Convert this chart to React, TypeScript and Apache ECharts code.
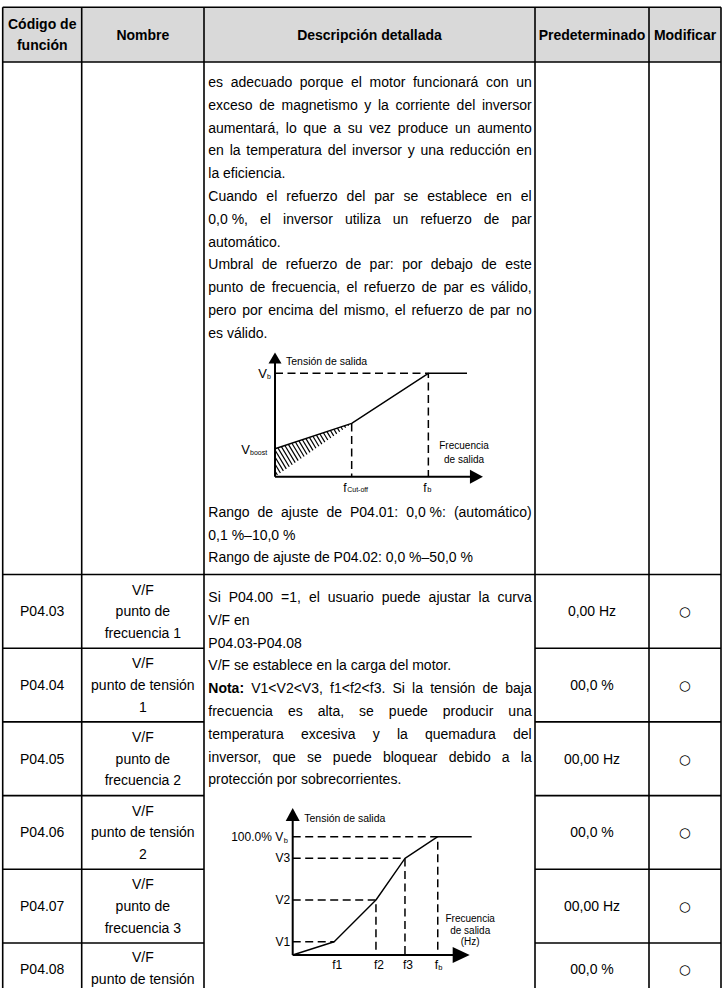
import React, { useEffect, useRef } from 'react';
import * as echarts from 'echarts';

// ---------- data ----------
const FAMILY = "'Liberation Sans', Arial, sans-serif";
const headers = ['Código de\nfunción', 'Nombre', 'Descripción detallada', 'Predeterminado', 'Modificar'];
const codes = ['P04.03', 'P04.04', 'P04.05', 'P04.06', 'P04.07', 'P04.08'];
const names = [
  ['V/F', 'punto de', 'frecuencia 1'],
  ['V/F', 'punto de tensión', '1'],
  ['V/F', 'punto de', 'frecuencia 2'],
  ['V/F', 'punto de tensión', '2'],
  ['V/F', 'punto de', 'frecuencia 3'],
  ['V/F', 'punto de tensión'],
];
const defaults = ['0,00 Hz', '00,0 %', '00,00 Hz', '00,0 %', '00,00 Hz', '00,0 %'];
const modifyMark = '○';

// [text, justified]
const upperLines: [string, boolean][] = [
  ['es adecuado porque el motor funcionará con un', true],
  ['exceso de magnetismo y la corriente del inversor', true],
  ['aumentará, lo que a su vez produce un aumento', true],
  ['en la temperatura del inversor y una reducción en', true],
  ['la eficiencia.', false],
  ['Cuando el refuerzo del par se establece en el', true],
  ['0,0\u00a0%, el inversor utiliza un refuerzo de par', true],
  ['automático.', false],
  ['Umbral de refuerzo de par: por debajo de este', true],
  ['punto de frecuencia, el refuerzo de par es válido,', true],
  ['pero por encima del mismo, el refuerzo de par no', true],
  ['es válido.', false],
];
const rangeLines: [string, boolean][] = [
  ['Rango de ajuste de P04.01: 0,0\u00a0%: (automático)', true],
  ['0,1 %–10,0 %', false],
  ['Rango de ajuste de P04.02: 0,0 %–50,0 %', false],
];
const lowerLines: [string, boolean][] = [
  ['Si P04.00 =1, el usuario puede ajustar la curva', true],
  ['V/F en', false],
  ['P04.03-P04.08', false],
  ['V/F se establece en la carga del motor.', false],
  ['Nota: V1<V2<V3, f1<f2<f3. Si la tensión de baja', true],
  ['frecuencia es alta, se puede producir una', true],
  ['temperatura excesiva y la quemadura del', true],
  ['inversor, que se puede bloquear debido a la', true],
  ['protección por sobrecorrientes.', false],
];
const boldWords = ['Nota:'];

// diagram 1 (torque boost): frequency (Hz) / voltage (% of Vb)
const d1Freq = [0, 25, 50, 62.6];
const d1Volt = [27, 51.5, 100, 100];
const d1Hatch = [[0, 0], [0, 27], [25, 51.5]];
// diagram 2 (V/F curve)
const d2Freq = [0, 14.3, 28.7, 38.7, 50, 61.7];
const d2Volt = [0, 11.2, 46.5, 81.7, 100, 100];
const d2VLabels = ['', 'V1', 'V2', 'V3'];
const d2FLabels = ['', 'f1', 'f2', 'f3'];

// ---------- layout ----------
const COLS = [2.7, 81.7, 204, 535, 649, 721];
const TOP = 7.3;
const HEAD_B = 62;
const ROW0 = 574.5;
const ROW_H = 73.7;
const PAGE_H = 988;
const LAST_CENTER = 969;
const LAST_NAMES_CENTER = 979;
const BODY = 14;
const TXT_L = 208.3;
const TXT_R = 531.7;
const LINE = 22.8;
const UP_Y0 = 82;
const RANGE_Y0 = 511.7;
const LOW_Y0 = 597;
const NAME_GAP = 21.7;

let ctx: CanvasRenderingContext2D | null = null;
function measure(t: string, bold: boolean, size = BODY) {
  if (!ctx) ctx = document.createElement('canvas').getContext('2d');
  ctx!.font = `${bold ? 'bold ' : ''}${size}px ${FAMILY}`;
  return ctx!.measureText(t).width;
}

function txt(x: number, y: number, text: string, o: any = {}) {
  return {
    type: 'text',
    x,
    y,
    silent: true,
    style: {
      text,
      fill: '#000',
      fontSize: o.size || BODY,
      fontFamily: o.family || FAMILY,
      fontWeight: o.bold ? 'bold' : 'normal',
      textAlign: o.align || 'left',
      align: o.align || 'left',
      textVerticalAlign: 'middle',
      verticalAlign: 'middle',
    },
  };
}

function ln(x1: number, y1: number, x2: number, y2: number, w = 1.6) {
  return { type: 'line', silent: true, shape: { x1, y1, x2, y2 }, style: { stroke: '#000', lineWidth: w } };
}

function paragraphEls(lines: [string, boolean][], y0: number, out: any[]) {
  const W = TXT_R - TXT_L;
  lines.forEach(([s, just], i) => {
    const y = y0 + i * LINE;
    const words = s.split(' ');
    const hasBold = words.some((w) => boldWords.includes(w));
    if (!just && !hasBold) {
      out.push(txt(TXT_L, y, s));
      return;
    }
    const widths = words.map((w) => measure(w, boldWords.includes(w)));
    const sum = widths.reduce((a, b) => a + b, 0);
    const gap = just && words.length > 1 ? (W - sum) / (words.length - 1) : measure(' ', false);
    let x = TXT_L;
    words.forEach((w, k) => {
      out.push(txt(x, y, w, { bold: boldWords.includes(w) }));
      x += widths[k] + gap;
    });
  });
}

function tableElements() {
  const els: any[] = [];
  els.push({
    type: 'rect',
    silent: true,
    shape: { x: COLS[0], y: TOP, width: COLS[5] - COLS[0], height: HEAD_B - TOP },
    style: { fill: '#d9d9d9' },
  });
  const hc = (TOP + HEAD_B) / 2;
  headers.forEach((h, i) => {
    const cx = (COLS[i] + COLS[i + 1]) / 2;
    const parts = h.split('\n');
    parts.forEach((p, k) => {
      const y = hc + (k - (parts.length - 1) / 2) * 21;
      els.push(txt(cx, y, p, { bold: true, align: 'center' }));
    });
  });
  [TOP, HEAD_B, ROW0].forEach((y) => els.push(ln(COLS[0], y, COLS[5], y)));
  for (let k = 1; k < codes.length; k++) {
    const y = ROW0 + k * ROW_H;
    els.push(ln(COLS[0], y, COLS[2], y));
    els.push(ln(COLS[3], y, COLS[5], y));
  }
  COLS.forEach((x) => els.push(ln(x, TOP, x, PAGE_H + 5)));
  codes.forEach((code, k) => {
    const top = ROW0 + k * ROW_H;
    const last = k === codes.length - 1;
    const cy = last ? LAST_CENTER : top + ROW_H / 2;
    const ny = last ? LAST_NAMES_CENTER : cy;
    els.push(txt((COLS[0] + COLS[1]) / 2, cy, code, { align: 'center' }));
    names[k].forEach((n, j) => {
      els.push(txt((COLS[1] + COLS[2]) / 2, ny + (j - 1) * NAME_GAP, n, { align: 'center' }));
    });
    els.push(txt((COLS[3] + COLS[4]) / 2, cy, defaults[k], { align: 'center' }));
    els.push(txt((COLS[4] + COLS[5]) / 2, cy, modifyMark, { align: 'center', size: 13.5, family: "'DejaVu Sans', sans-serif" }));
  });
  paragraphEls(upperLines, UP_Y0, els);
  paragraphEls(rangeLines, RANGE_Y0, els);
  paragraphEls(lowerLines, LOW_Y0, els);
  return els;
}

// ---------- diagram helpers ----------
type P = number[];
function clipLine(A: P, d: P, poly: P[]): P[] | null {
  const cx = poly.reduce((s, p) => s + p[0], 0) / poly.length;
  const cy = poly.reduce((s, p) => s + p[1], 0) / poly.length;
  let t0 = -1e9;
  let t1 = 1e9;
  for (let i = 0; i < poly.length; i++) {
    const Pp = poly[i];
    const Q = poly[(i + 1) % poly.length];
    let n = [-(Q[1] - Pp[1]), Q[0] - Pp[0]];
    if (n[0] * (cx - Pp[0]) + n[1] * (cy - Pp[1]) < 0) n = [-n[0], -n[1]];
    const num = n[0] * (A[0] - Pp[0]) + n[1] * (A[1] - Pp[1]);
    const den = n[0] * d[0] + n[1] * d[1];
    if (Math.abs(den) < 1e-9) {
      if (num < 0) return null;
      continue;
    }
    const t = -num / den;
    if (den > 0) t0 = Math.max(t0, t);
    else t1 = Math.min(t1, t);
  }
  if (t0 >= t1) return null;
  return [
    [A[0] + t0 * d[0], A[1] + t0 * d[1]],
    [A[0] + t1 * d[0], A[1] + t1 * d[1]],
  ];
}

function cl(x1: number, y1: number, x2: number, y2: number, w = 2) {
  return { type: 'line', shape: { x1, y1, x2, y2 }, style: { stroke: '#000', lineWidth: w } };
}
function poly(points: P[]) {
  return { type: 'polygon', shape: { points }, style: { fill: '#000' } };
}
function ct(x: number, y: number, text: string, size: number, align = 'left') {
  return {
    type: 'text',
    x,
    y,
    style: {
      text,
      fill: '#000',
      fontSize: size,
      fontFamily: FAMILY,
      textAlign: align,
      align,
      textVerticalAlign: 'middle',
      verticalAlign: 'middle',
    },
  };
}

function renderD1(_params: any, api: any) {
  const c = (x: number, y: number) => api.coord([x, y]);
  const O = c(0, 0);
  const yTip = c(0, 120);
  const xTip = c(67.8, 0);
  const ch: any[] = [];
  ch.push(cl(O[0], O[1], yTip[0], yTip[1] + 10));
  ch.push(poly([yTip, [yTip[0] - 6.5, yTip[1] + 11], [yTip[0] + 6.5, yTip[1] + 11]]));
  ch.push(cl(O[0], O[1], xTip[0] - 12, O[1]));
  ch.push(poly([xTip, [xTip[0] - 13, O[1] - 7], [xTip[0] - 13, O[1] + 7]]));
  const tri = d1Hatch.map((p) => c(p[0], p[1]));
  const minX = Math.min(...tri.map((p) => p[0]));
  const maxX = Math.max(...tri.map((p) => p[0]));
  const minY = Math.min(...tri.map((p) => p[1]));
  const maxY = Math.max(...tri.map((p) => p[1]));
  const dir = [0.6, 1];
  for (let x0 = minX - (maxY - minY) * 0.6 - 5; x0 < maxX + 5; x0 += 4.2) {
    const seg = clipLine([x0, minY], dir, tri);
    if (seg) ch.push(cl(seg[0][0], seg[0][1], seg[1][0], seg[1][1], 1.2));
  }
  ch.push(ct(yTip[0] + 11, yTip[1] + 8, 'Tensión de salida', 10.5));
  const vb = c(0, d1Volt[2]);
  ch.push(ct(vb[0] - 8, vb[1], 'V', 13, 'right'));
  ch.push(ct(vb[0] - 8, vb[1] + 3.5, 'b', 7));
  const vbo = c(0, d1Volt[0]);
  ch.push(ct(vbo[0] - 25, vbo[1] + 1, 'V', 13, 'right'));
  ch.push(ct(vbo[0] - 25, vbo[1] + 4, 'boost', 7));
  const fc = c(d1Freq[1], 0);
  ch.push(ct(fc[0] - 8.5, O[1] + 11.5, 'f', 12));
  ch.push(ct(fc[0] - 4.5, O[1] + 13, 'Cut-off', 7));
  const fb = c(d1Freq[2], 0);
  ch.push(ct(fb[0] - 5, O[1] + 11.5, 'f', 12));
  ch.push(ct(fb[0] - 1, O[1] + 13, 'b', 7.5));
  const fr = c(d1Freq[3], d1Volt[0]);
  ch.push(ct(fr[0] - 3, O[1] - 31.5, 'Frecuencia', 10, 'center'));
  ch.push(ct(fr[0] - 3, O[1] - 17, 'de salida', 10, 'center'));
  return { type: 'group', children: ch };
}

function renderD2(_params: any, api: any) {
  const c = (x: number, y: number) => api.coord([x, y]);
  const O = c(0, 0);
  const yTip = c(0, 124.3);
  const xTip = c(61, 0);
  const ch: any[] = [];
  ch.push(cl(O[0], O[1], yTip[0], yTip[1] + 12));
  ch.push(poly([yTip, [yTip[0] - 7, yTip[1] + 13], [yTip[0] + 7, yTip[1] + 13]]));
  ch.push(cl(O[0], O[1], xTip[0] - 15, O[1]));
  ch.push(poly([xTip, [xTip[0] - 17, O[1] - 8], [xTip[0] - 17, O[1] + 8]]));
  ch.push(ct(yTip[0] + 11.5, yTip[1] + 10, 'Tensión de salida', 10.5));
  const vb = c(0, d2Volt[4]);
  ch.push(ct(vb[0] - 9.5, vb[1], '100.0% V', 12, 'right'));
  ch.push(ct(vb[0] - 9, vb[1] + 4, 'b', 7.5));
  for (let i = 1; i <= 3; i++) {
    const v = c(0, d2Volt[i]);
    ch.push(ct(v[0] - 2.5, v[1], d2VLabels[i], 12, 'right'));
    const f = c(d2Freq[i], 0);
    ch.push(ct(f[0] + 3, O[1] + 9.5, d2FLabels[i], 12, 'center'));
  }
  const fb = c(d2Freq[4], 0);
  ch.push(ct(fb[0] - 3, O[1] + 9.5, 'f', 12));
  ch.push(ct(fb[0] + 0.5, O[1] + 12.5, 'b', 7.5));
  const fr = c(d2Freq[5], 0);
  ch.push(ct(fr[0] - 1.5, O[1] - 37, 'Frecuencia', 10, 'center'));
  ch.push(ct(fr[0] - 1.5, O[1] - 25, 'de salida', 10, 'center'));
  ch.push(ct(fr[0] - 1.5, O[1] - 13.5, '(Hz)', 10, 'center'));
  return { type: 'group', children: ch };
}

const DASH = { color: '#000', width: 1.5, type: [8, 4.5] };
const SOLID = { color: '#000', width: 1.4 };

function lineSeries(data: number[][], axis: number, style: any) {
  return {
    type: 'line',
    xAxisIndex: axis,
    yAxisIndex: axis,
    data,
    symbol: 'none',
    silent: true,
    clip: false,
    lineStyle: style,
  };
}

function buildOption() {
  const series: any[] = [];
  series.push(lineSeries(d1Freq.map((f, i) => [f, d1Volt[i]]), 0, SOLID));
  series.push(lineSeries([[0, d1Volt[2]], [d1Freq[2], d1Volt[2]], [d1Freq[2], 0]], 0, DASH));
  series.push(lineSeries([[d1Freq[1], d1Volt[1]], [d1Freq[1], 0]], 0, DASH));
  series.push({
    type: 'custom',
    xAxisIndex: 0,
    yAxisIndex: 0,
    data: [[0, 0]],
    renderItem: renderD1,
    silent: true,
    clip: false,
  });
  series.push(lineSeries(d2Freq.map((f, i) => [f, d2Volt[i]]), 1, SOLID));
  for (let i = 1; i <= 4; i++) {
    const pts = [[0, d2Volt[i]], [d2Freq[i], d2Volt[i]]];
    if (i >= 2) pts.push([d2Freq[i], 0]);
    series.push(lineSeries(pts, 1, DASH));
  }
  series.push({
    type: 'custom',
    xAxisIndex: 1,
    yAxisIndex: 1,
    data: [[0, 0]],
    renderItem: renderD2,
    silent: true,
    clip: false,
  });

  return {
    animation: false,
    backgroundColor: '#fff',
    grid: [
      { left: 275, top: 373.3, width: 192, height: 103.4 },
      { left: 292.7, top: 836.7, width: 179, height: 118.3 },
    ],
    xAxis: [
      { type: 'value', gridIndex: 0, min: 0, max: 62.6, show: false },
      { type: 'value', gridIndex: 1, min: 0, max: 61.7, show: false },
    ],
    yAxis: [
      { type: 'value', gridIndex: 0, min: 0, max: 100, show: false },
      { type: 'value', gridIndex: 1, min: 0, max: 100, show: false },
    ],
    graphic: { elements: tableElements() },
    series,
  };
}

export default function App() {
  const ref = useRef<HTMLDivElement>(null);
  useEffect(() => {
    document.body.style.margin = '0';
    const chart = echarts.init(ref.current!, null, { renderer: 'svg' });
    chart.setOption(buildOption() as any);
    return () => chart.dispose();
  }, []);
  return <div ref={ref} style={{ width: 723, height: 988, background: '#fff' }} />;
}
